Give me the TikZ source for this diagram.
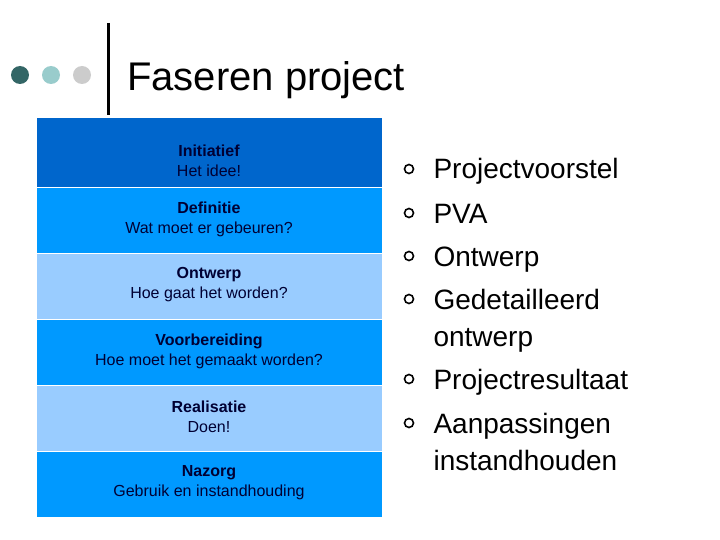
\documentclass[tikz,border=0pt]{standalone}
\usepackage{fontspec}
\setmainfont{Liberation Sans}
\definecolor{c1}{HTML}{0066CC}
\definecolor{c2}{HTML}{0099FF}
\definecolor{c3}{HTML}{99CCFF}
\definecolor{navy}{HTML}{000033}
\definecolor{d1}{HTML}{336666}
\definecolor{d2}{HTML}{99CCCC}
\definecolor{d3}{HTML}{CCCCCC}
\begin{document}
\begin{tikzpicture}[x=1pt,y=-1pt,
  phase/.style={minimum width=346pt,minimum height=66pt,inner sep=0pt,anchor=north west,draw=white,line width=1pt},
  ptext/.style={align=center,font=\fontsize{16}{20}\selectfont,text=navy},
  bl/.style={anchor=base west,font=\fontsize{28}{30}\selectfont},
  ring/.style={draw=black,line width=1.6pt}]
\useasboundingbox (0,0) rectangle (720,540);
\fill[fill=white] (0,0) rectangle (720,540);
\fill[d1] (20,75) circle (9);
\fill[d2] (51,75) circle (9);
\fill[d3] (82,75) circle (9);
\draw[line width=3pt] (108,23) -- (108,115);
\node[anchor=base west,font=\fontsize{40}{44}\selectfont,inner sep=0] (title) at (127,91) {Faseren project};
\node[phase,fill=c1,minimum height=70pt] (p1) at (36,117) {};
\node[phase,fill=c2] (p2) at (36,187) {};
\node[phase,fill=c3] (p3) at (36,253) {};
\node[phase,fill=c2] (p4) at (36,319) {};
\node[phase,fill=c3] (p5) at (36,385) {};
\node[phase,fill=c2] (p6) at (36,451) {};
\node[ptext] at (209,161) {\textbf{Initiatief}\\Het idee!};
\node[ptext] at (209,219) {\textbf{Definitie}\\Wat moet er gebeuren?};
\node[ptext] at (209,285) {\textbf{Ontwerp}\\Hoe gaat het worden?};
\node[ptext] at (209,351) {\textbf{Voorbereiding}\\Hoe moet het gemaakt worden?};
\node[ptext] at (209,417) {\textbf{Realisatie}\\Doen!};
\node[ptext] at (209,483) {\textbf{Nazorg}\\Gebruik en instandhouding};
\foreach \y in {169,213,256,299,379,423} \draw[ring] (409,\y) circle (4.5);
\node[bl] at (430,179) {Projectvoorstel};
\node[bl] at (430,223) {PVA};
\node[bl] at (430,266) {Ontwerp};
\node[bl] at (430,309) {Gedetailleerd};
\node[bl] at (430,346) {ontwerp};
\node[bl] at (430,389) {Projectresultaat};
\node[bl] at (430,433) {Aanpassingen};
\node[bl] at (430,470) {instandhouden};
\end{tikzpicture}
\end{document}
